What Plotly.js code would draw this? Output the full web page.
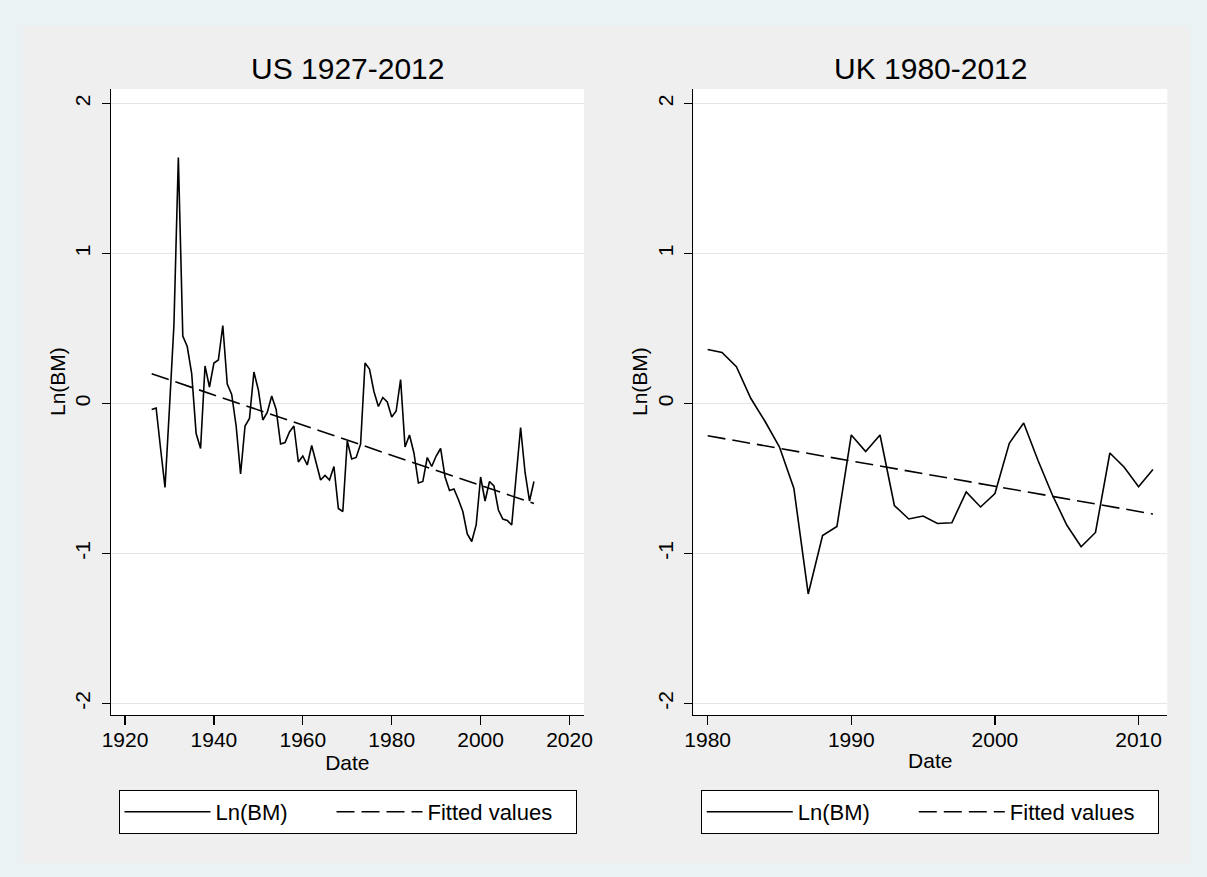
<!DOCTYPE html>
<html>
<head>
<meta charset="utf-8">
<script src="https://cdn.plot.ly/plotly-3.0.1.min.js"></script>
<style>
html,body{margin:0;padding:0;background:#eaf2f3;}
#chart{width:1207px;height:877px;}
</style>
</head>
<body>
<div id="chart"></div>
<script>
// ---- US 1927-2012 ----
const usYears = [1926,1927,1928,1929,1930,1931,1932,1933,1934,1935,1936,1937,1938,1939,1940,1941,1942,1943,1944,1945,
  1946,1947,1948,1949,1950,1951,1952,1953,1954,1955,1956,1957,1958,1959,1960,1961,1962,1963,1964,1965,
  1966,1967,1968,1969,1970,1971,1972,1973,1974,1975,1976,1977,1978,1979,1980,1981,1982,1983,1984,1985,
  1986,1987,1988,1989,1990,1991,1992,1993,1994,1995,1996,1997,1998,1999,2000,2001,2002,2003,2004,2005,
  2006,2007,2008,2009,2010,2011,2012];
const usLnBM = [-0.04,-0.03,-0.30,-0.56,-0.03,0.52,1.64,0.45,0.38,0.20,-0.20,-0.30,0.25,0.11,0.27,0.29,0.52,0.13,0.06,-0.15,
  -0.47,-0.15,-0.10,0.21,0.09,-0.11,-0.06,0.05,-0.04,-0.27,-0.26,-0.19,-0.15,-0.39,-0.35,-0.41,-0.28,-0.40,-0.51,-0.48,
  -0.51,-0.42,-0.70,-0.72,-0.25,-0.37,-0.36,-0.27,0.27,0.23,0.08,-0.02,0.04,0.01,-0.09,-0.05,0.16,-0.29,-0.21,-0.33,
  -0.53,-0.52,-0.36,-0.42,-0.35,-0.30,-0.49,-0.58,-0.57,-0.64,-0.72,-0.87,-0.92,-0.81,-0.49,-0.65,-0.52,-0.55,-0.71,-0.77,
  -0.78,-0.81,-0.49,-0.16,-0.46,-0.65,-0.52];
const usFitYears = [1926, 2012];
const usFitted = [0.198, -0.667];

// ---- UK 1980-2012 ----
const ukYears = [1980,1981,1982,1983,1984,1985,1986,1987,1988,1989,1990,1991,1992,1993,1994,1995,1996,1997,1998,1999,
  2000,2001,2002,2003,2004,2005,2006,2007,2008,2009,2010,2011];
const ukLnBM = [0.36,0.34,0.245,0.035,-0.12,-0.29,-0.565,-1.27,-0.88,-0.82,-0.21,-0.32,-0.21,-0.68,-0.77,-0.75,-0.80,-0.795,-0.59,-0.69,
  -0.60,-0.265,-0.13,-0.38,-0.61,-0.81,-0.955,-0.86,-0.33,-0.425,-0.555,-0.44];
const ukFitYears = [1980, 2011];
const ukFitted = [-0.215, -0.737];

// ---- tick labels ----
const yTickVals = [-2,-1,0,1,2];
const yTickText = ['-2','-1','0','1','2'];
const usXTicks = [1920,1940,1960,1980,2000,2020];
const ukXTicks = [1980,1990,2000,2010];
const titles = ['US 1927-2012','UK 1980-2012'];
const seriesNames = ['Ln(BM)','Fitted values'];

const W = 1207, H = 877;
const FONT = 'Liberation Sans, Arial, Helvetica, sans-serif';

const solid = {color:'#000', width:1.6};
const dashed = {color:'#000', width:1.6, dash:'18px,7px'};

const traces = [
  {x:usYears, y:usLnBM, type:'scatter', mode:'lines', name:seriesNames[0], line:solid, xaxis:'x', yaxis:'y', legend:'legend', legendwidth:111, hoverinfo:'skip'},
  {x:usFitYears, y:usFitted, type:'scatter', mode:'lines', name:seriesNames[1], line:dashed, xaxis:'x', yaxis:'y', legend:'legend', legendwidth:143, hoverinfo:'skip'},
  {x:ukYears, y:ukLnBM, type:'scatter', mode:'lines', name:seriesNames[0], line:solid, xaxis:'x2', yaxis:'y2', legend:'legend2', legendwidth:111, hoverinfo:'skip'},
  {x:ukFitYears, y:ukFitted, type:'scatter', mode:'lines', name:seriesNames[1], line:dashed, xaxis:'x2', yaxis:'y2', legend:'legend2', legendwidth:143, hoverinfo:'skip'}
];

const xCommon = {
  showline:true, linecolor:'#000', linewidth:1.2, mirror:false,
  ticks:'outside', ticklen:9, tickwidth:1.2, tickcolor:'#000',
  showgrid:false, zeroline:false, tickfont:{size:21, family:FONT, color:'#000'},
  ticklabelstandoff:-3,
  tickmode:'array', fixedrange:true,
  title:{text:'Date', font:{size:21, family:FONT, color:'#000'}, standoff:2}
};
const yCommon = {
  showline:true, linecolor:'#000', linewidth:1.2, mirror:false,
  ticks:'outside', ticklen:8, tickwidth:1.2, tickcolor:'#000',
  showgrid:true, gridcolor:'#e6e6e6', gridwidth:1.5, zeroline:false,
  tickfont:{size:21, family:FONT, color:'#000'}, tickangle:-90, ticklabelstandoff:3,
  tickmode:'array', tickvals:yTickVals, ticktext:yTickText, range:[-2.077, 2.097], fixedrange:true
};

const yDom = [1-715/H, 1-89/H];
const legendCommon = {
  orientation:'h', yanchor:'top', y:1-790/H, xanchor:'center',
  bgcolor:'#fff', bordercolor:'#000', borderwidth:1,
  font:{size:22, family:FONT, color:'#000'}, itemwidth:86, entrywidthmode:'pixels', traceorder:'normal'
};

const layout = {
  width:W, height:H,
  margin:{l:0, r:0, t:0, b:0},
  paper_bgcolor:'#efefef',
  plot_bgcolor:'#ffffff',
  font:{family:FONT, color:'#000', size:21},
  showlegend:true,
  xaxis:Object.assign({}, xCommon, {domain:[110.7/W, 584/W], range:[1916.78, 2023.26], anchor:'y', tickvals:usXTicks, ticktext:usXTicks.map(String)}),
  yaxis:Object.assign({}, yCommon, {domain:yDom, anchor:'x'}),
  xaxis2:Object.assign({}, xCommon, {domain:[693.3/W, 1167.3/W], range:[1979.0, 2012.0], anchor:'y2', tickvals:ukXTicks, ticktext:ukXTicks.map(String)}),
  yaxis2:Object.assign({}, yCommon, {domain:yDom, anchor:'x2'}),
  legend:Object.assign({}, legendCommon, {x:347.5/W}),
  legend2:Object.assign({}, legendCommon, {x:929.8/W}),
  annotations:[
    {text:titles[0], xref:'paper', yref:'paper', x:347.3/W, y:1-68/H, xanchor:'center', yanchor:'middle', showarrow:false, font:{size:30, family:FONT, color:'#000'}},
    {text:titles[1], xref:'paper', yref:'paper', x:930.3/W, y:1-68/H, xanchor:'center', yanchor:'middle', showarrow:false, font:{size:30, family:FONT, color:'#000'}},
    {text:'Ln(BM)', xref:'paper', yref:'paper', x:57/W, y:1-382/H, xanchor:'center', yanchor:'middle', textangle:-90, showarrow:false, font:{size:21, family:FONT, color:'#000'}},
    {text:'Ln(BM)', xref:'paper', yref:'paper', x:639/W, y:1-382/H, xanchor:'center', yanchor:'middle', textangle:-90, showarrow:false, font:{size:21, family:FONT, color:'#000'}}
  ],
  shapes:[
    {type:'rect', xref:'paper', yref:'paper', x0:0, x1:1, y0:1-26/H, y1:1, fillcolor:'#eaf2f3', line:{width:0}, layer:'below'},
    {type:'rect', xref:'paper', yref:'paper', x0:0, x1:1, y0:0, y1:14/H, fillcolor:'#eaf2f3', line:{width:0}, layer:'below'},
    {type:'rect', xref:'paper', yref:'paper', x0:0, x1:23/W, y0:0, y1:1, fillcolor:'#eaf2f3', line:{width:0}, layer:'below'},
    {type:'rect', xref:'paper', yref:'paper', x0:1190/W, x1:1, y0:0, y1:1, fillcolor:'#eaf2f3', line:{width:0}, layer:'below'}
  ]
};

Plotly.newPlot('chart', traces, layout, {displayModeBar:false, staticPlot:true});
</script>
</body>
</html>
